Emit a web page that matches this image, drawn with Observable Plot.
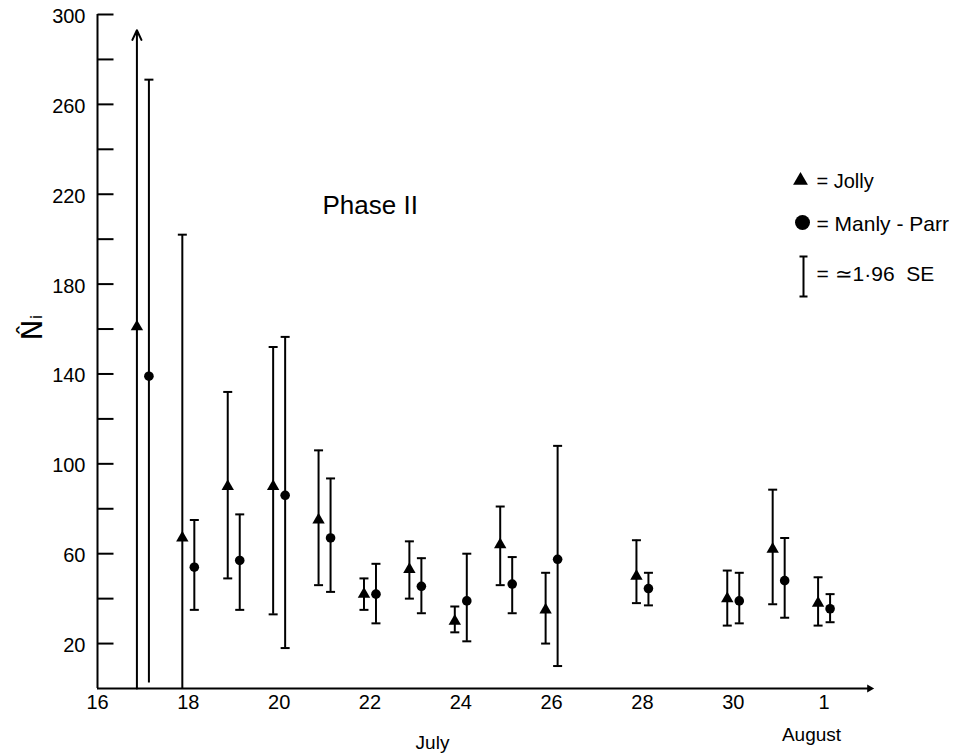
<!DOCTYPE html>
<html>
<head>
<meta charset="utf-8">
<script src="https://cdn.jsdelivr.net/npm/d3@7"></script>
<script src="https://cdn.jsdelivr.net/npm/@observablehq/plot@0.6"></script>
<style>
  html, body { margin: 0; padding: 0; background: #fff; }
  #chart { width: 973px; height: 756px; overflow: hidden; }
</style>
</head>
<body>
<div id="chart"></div>
<script>
// Days (July; 32 = 1 August)
const days    = [17, 18, 19, 20, 21, 22, 23, 24, 25, 26, 28, 30, 31, 32];
// Jolly estimates and approx. 1.96 SE limits
const jolly   = [161, 67, 90, 90, 75, 42, 53, 30, 64, 35, 50, 40, 62, 38];
const jollyLo = [0, 0, 49, 33, 46, 35, 40, 25, 46, 20, 38, 28, 37.5, 28];
const jollyHi = [293, 202, 132, 152, 106, 49, 65.5, 36.5, 81, 51.5, 66, 52.5, 88.5, 49.5];
const jollyOffScale = [17];
// Manly-Parr estimates and approx. 1.96 SE limits
const manly   = [139, 54, 57, 86, 67, 42, 45.5, 39, 46.5, 57.5, 44.5, 39, 48, 35.5];
const manlyLo = [2.5, 35, 35, 18, 43, 29, 33.5, 21, 33.5, 10, 37, 29, 31.5, 29.5];
const manlyHi = [271, 75, 77.5, 156.5, 93.5, 55.5, 58, 60, 58.5, 108, 51.5, 51.5, 67, 42];
// Axis ticks
const yLabelTicks = [20, 60, 100, 140, 180, 220, 260, 300];
const yTicks = [20, 40, 60, 80, 100, 120, 140, 160, 180, 200, 220, 240, 260, 280, 300];
const xTicks = [16, 18, 20, 22, 24, 26, 28, 30, 32];
const xTickLabels = ["16", "18", "20", "22", "24", "26", "28", "30", "1"];
const yLabel = "N\u0302\u1D62";

const rows = days.map((d, i) => ({
  day: d, j: jolly[i], jLo: jollyLo[i], jHi: jollyHi[i],
  m: manly[i], mLo: manlyLo[i], mHi: manlyHi[i],
  open: jollyOffScale.includes(d)
}));

const cap = {draw(c) { c.moveTo(-4.5, 0); c.lineTo(4.5, 0); }};
const inTick = {draw(c) { c.moveTo(0, 0); c.lineTo(16, 0); }};
const legendBar = {draw(c) {
  c.moveTo(0, -20); c.lineTo(0, 20);
  c.moveTo(-4, -20); c.lineTo(4, -20);
  c.moveTo(-4, 20); c.lineTo(4, 20);
}};

const JDX = -6, MDX = 6;
const font = "Liberation Sans, Arial, sans-serif";

const plot = Plot.plot({
  width: 973,
  height: 756,
  marginLeft: 97,
  marginRight: 104,
  marginTop: 14,
  marginBottom: 68,
  style: {fontFamily: font, fontSize: "20px", background: "white", color: "black"},
  x: {domain: [16, 33]},
  y: {domain: [0, 300]},
  marks: [
    // axes lines
    Plot.ruleX([16], {strokeWidth: 2}),
    Plot.ruleY([0], {strokeWidth: 2}),
    Plot.dot([0], {frameAnchor: "bottom-right", symbol: "triangle", rotate: 90, r: 3, fill: "black"}),
    Plot.dot(yTicks, {y: d => d, frameAnchor: "left", symbol: inTick, stroke: "black", strokeWidth: 2}),
    Plot.axisY({ticks: yLabelTicks, tickSize: 0, tickPadding: 12, label: null, fontSize: 20, dy: 2}),
    Plot.axisX({ticks: xTicks, tickFormat: (d, i) => xTickLabels[i], tickSize: 0, tickPadding: 6, label: null, fontSize: 20}),
    // Jolly error bars
    Plot.ruleX(rows.filter(d => !d.open), {x: "day", y1: "jLo", y2: "jHi", dx: JDX, strokeWidth: 2}),
    Plot.arrow(rows.filter(d => d.open), {x1: "day", x2: "day", y1: "jLo", y2: "jHi", dx: JDX, strokeWidth: 2, headLength: 8, headAngle: 50}),
    Plot.dot(rows.filter(d => !d.open), {x: "day", y: "jHi", dx: JDX, symbol: cap, stroke: "black", strokeWidth: 2}),
    Plot.dot(rows.filter(d => d.jLo > 5), {x: "day", y: "jLo", dx: JDX, symbol: cap, stroke: "black", strokeWidth: 2}),
    Plot.dot(rows, {x: "day", y: "j", dx: JDX, symbol: "triangle", r: 4.6, fill: "black"}),
    // Manly-Parr error bars
    Plot.ruleX(rows, {x: "day", y1: "mLo", y2: "mHi", dx: MDX, strokeWidth: 2}),
    Plot.dot(rows, {x: "day", y: "mHi", dx: MDX, symbol: cap, stroke: "black", strokeWidth: 2}),
    Plot.dot(rows.filter(d => d.mLo > 5), {x: "day", y: "mLo", dx: MDX, symbol: cap, stroke: "black", strokeWidth: 2}),
    Plot.dot(rows, {x: "day", y: "m", dx: MDX, symbol: "circle", r: 4.8, fill: "black"}),
    // annotations
    Plot.text(["Phase II"], {frameAnchor: "top-left", dx: 225, dy: 199, textAnchor: "start", lineAnchor: "bottom", fontSize: 26, fontFamily: font}),
    Plot.text(["July"], {frameAnchor: "bottom-left", dx: 335, dy: 60, textAnchor: "middle", lineAnchor: "bottom", fontSize: 19}),
    Plot.text(["August"], {frameAnchor: "bottom-left", dx: 714, dy: 52, textAnchor: "middle", lineAnchor: "bottom", fontSize: 19}),
    Plot.text([yLabel], {frameAnchor: "top-left", dx: -64, dy: 313, rotate: -90, textAnchor: "middle", lineAnchor: "middle", fontSize: 28, fontFamily: "DejaVu Sans"}),
    // legend
    Plot.dot([0], {frameAnchor: "top-left", dx: 703, dy: 166, symbol: "triangle", r: 5.5, fill: "black"}),
    Plot.text(["= Jolly"], {frameAnchor: "top-left", dx: 719, dy: 173, textAnchor: "start", lineAnchor: "bottom", fontSize: 20, letterSpacing: "1px"}),
    Plot.dot([0], {frameAnchor: "top-left", dx: 705, dy: 208, symbol: "circle", r: 7.5, fill: "black"}),
    Plot.text(["= Manly - Parr"], {frameAnchor: "top-left", dx: 719, dy: 216, textAnchor: "start", lineAnchor: "bottom", fontSize: 21, letterSpacing: "2px"}),
    Plot.dot([0], {frameAnchor: "top-left", dx: 706, dy: 262, symbol: legendBar, stroke: "black", strokeWidth: 2}),
    Plot.text(["= \u22431\u00B796  SE"], {frameAnchor: "top-left", dx: 719, dy: 266, textAnchor: "start", lineAnchor: "bottom", fontSize: 21, letterSpacing: "1.5px"})
  ]
});
document.getElementById("chart").appendChild(plot);
</script>
</body>
</html>
